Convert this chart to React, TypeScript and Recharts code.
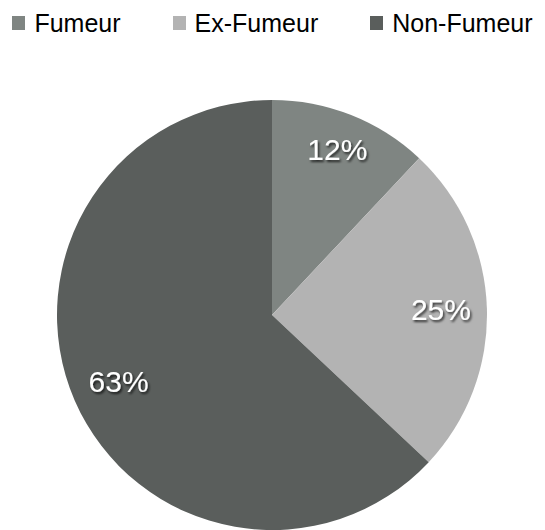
import { PieChart, Pie, Cell } from 'recharts';

const categories = ['Fumeur', 'Ex-Fumeur', 'Non-Fumeur'];
const values = [12, 25, 63];
const colors = ['#7f8582', '#b3b3b3', '#5a5e5c'];

const data = categories.map((name, i) => ({ name, value: values[i] }));

const RAD = Math.PI / 180;

function renderLabel(props: any) {
  const { cx, cy, midAngle, outerRadius, value } = props;
  const text = `${value}%`;
  const fontSize = 30;
  const halfW = text.length * fontSize * 0.34;
  const halfH = 12;
  const c = Math.cos(-midAngle * RAD);
  const s = Math.sin(-midAngle * RAD);
  const r = outerRadius - 15 - (halfW * Math.abs(c) + halfH * Math.abs(s));
  const x = cx + r * c;
  const y = cy + r * s;
  return (
    <text
      x={x}
      y={y}
      fill="#fff"
      textAnchor="middle"
      dominantBaseline="central"
      fontSize={fontSize}
      fontFamily="'Liberation Sans', Arial, sans-serif"
      filter="url(#lblShadow)"
    >
      {text}
    </text>
  );
}

function ChartLegend() {
  return (
    <div
      style={{
        position: 'absolute',
        top: 8,
        left: 0,
        width: 545,
        display: 'flex',
        justifyContent: 'center',
        gap: 52,
        fontFamily: "'Liberation Sans', Arial, sans-serif",
        fontSize: 25,
        lineHeight: '30px',
        color: '#000',
      }}
    >
      {categories.map((c, i) => (
        <div key={c} style={{ display: 'flex', alignItems: 'center' }}>
          <span style={{ display: 'inline-block', width: 13, height: 14, background: colors[i], marginRight: 9 }} />
          <span>{c}</span>
        </div>
      ))}
    </div>
  );
}

export default function App() {
  return (
    <div style={{ position: 'fixed', top: 0, left: 0, width: 545, height: 530, background: '#fff' }}>
      <PieChart width={545} height={530} margin={{ top: 0, right: 0, bottom: 0, left: 0 }}>
        <defs>
          <filter id="lblShadow" x="-20%" y="-20%" width="150%" height="160%">
            <feDropShadow dx="1.5" dy="2" stdDeviation="1.2" floodColor="#000" floodOpacity="0.7" />
          </filter>
        </defs>
        <Pie
          data={data}
          dataKey="value"
          nameKey="name"
          cx={272}
          cy={315}
          outerRadius={215}
          startAngle={90}
          endAngle={-270}
          stroke="none"
          label={renderLabel}
          labelLine={false}
          isAnimationActive={false}
        >
          {data.map((d, i) => (
            <Cell key={d.name} fill={colors[i]} />
          ))}
        </Pie>
      </PieChart>
      <ChartLegend />
    </div>
  );
}
